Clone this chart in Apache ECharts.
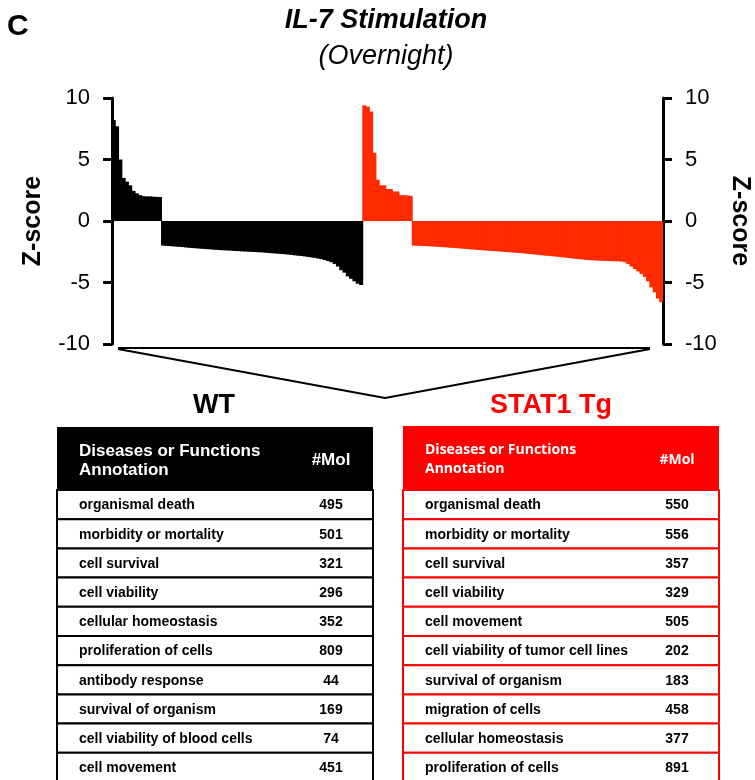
<!DOCTYPE html>
<html>
<head>
<meta charset="utf-8">
<title>IL-7 Stimulation (Overnight)</title>
<script src="https://cdn.jsdelivr.net/npm/echarts@6/dist/echarts.min.js"></script>
<style>
  html, body { margin: 0; padding: 0; background: #fff; }
  #main { width: 755px; height: 780px; }
</style>
</head>
<body>
<div id="main"></div>
<script>
// z-scores, sorted as in the figure (left: WT, right: STAT1 Tg)
var wtZ = [
  8.2, 7.7, 5.0, 3.5, 3.2, 2.9, 2.45, 2.25, 2.1, 2.02, 2.0, 2.0, 1.98, 1.96, 1.95,
  -2.0, -2.02, -2.04, -2.06, -2.08, -2.1, -2.12, -2.15, -2.18,
  -2.2, -2.22, -2.24, -2.26, -2.28, -2.3, -2.32, -2.34, -2.36, -2.38,
  -2.39, -2.4, -2.42, -2.44, -2.45, -2.47, -2.48, -2.5, -2.51, -2.52, -2.54, -2.55,
  -2.58, -2.6, -2.62, -2.64, -2.66, -2.68, -2.7, -2.73, -2.76, -2.79, -2.82,
  -2.85, -2.88, -2.92, -2.96, -3.0, -3.05, -3.1, -3.17,
  -3.25, -3.35, -3.5, -3.7, -4.0, -4.2, -4.5, -4.7, -4.9, -5.1, -5.2
];
var tgZ = [
  9.4, 9.3, 8.9, 5.55, 3.35, 2.9, 2.9, 2.6, 2.6, 2.4, 2.4, 2.1, 2.1, 2.08, 2.05,
  -2.0, -2.01, -2.02, -2.03, -2.05, -2.06, -2.08, -2.09, -2.11, -2.13, -2.15,
  -2.17, -2.19, -2.21, -2.23, -2.25, -2.27, -2.3,
  -2.32, -2.34, -2.36, -2.38, -2.4, -2.42, -2.44, -2.46, -2.48, -2.5,
  -2.52, -2.54, -2.56, -2.58, -2.6, -2.62, -2.65, -2.68,
  -2.7, -2.73, -2.76, -2.79, -2.81, -2.84, -2.86, -2.89, -2.92, -2.95,
  -2.98, -3.01, -3.04, -3.07, -3.1, -3.12, -3.15, -3.17,
  -3.19, -3.2, -3.22, -3.23, -3.24, -3.25, -3.26, -3.27, -3.28, -3.3,
  -3.35, -3.5, -3.7, -3.9, -4.1, -4.3, -4.55, -4.9, -5.4, -5.8, -6.3, -6.6
];

// top-10 functions tables
var wtFunctions = [
  'organismal death', 'morbidity or mortality', 'cell survival', 'cell viability',
  'cellular homeostasis', 'proliferation of cells', 'antibody response',
  'survival of organism', 'cell viability of blood cells', 'cell movement'
];
var wtMol = [495, 501, 321, 296, 352, 809, 44, 169, 74, 451];

var tgFunctions = [
  'organismal death', 'morbidity or mortality', 'cell survival', 'cell viability',
  'cell movement', 'cell viability of tumor cell lines', 'survival of organism',
  'migration of cells', 'cellular homeostasis', 'proliferation of cells'
];
var tgMol = [550, 556, 357, 329, 505, 202, 183, 458, 377, 891];

var BLACK = '#000000';
var BAR_RED = '#ff2a00';
var TABLE_RED = '#ff0000';
var FONT = '"Liberation Sans", Arial, sans-serif';

var chart = echarts.init(document.getElementById('main'), null, { renderer: 'canvas' });

var n = wtZ.length + tgZ.length;
var cats = [];
for (var i = 0; i < n; i++) cats.push(String(i));

var wtData = wtZ.concat(tgZ.map(function () { return '-'; }));
var tgData = wtZ.map(function () { return '-'; }).concat(tgZ);

function buildTable(left, right, top, headBottom, rowH, names, mols, headColor, lineColor, headFont) {
  var els = [];
  var w = right - left;
  var numX = left + 274;
  els.push({
    type: 'rect',
    shape: { x: left, y: top, width: w, height: headBottom - top },
    style: { fill: headColor }
  });
  els.push({
    type: 'text',
    style: {
      x: left + 22, y: (top + headBottom) / 2 + 2,
      text: 'Diseases or Functions\nAnnotation',
      fill: '#fff', font: headFont, lineHeight: 19,
      verticalAlign: 'middle', align: 'left'
    }
  });
  els.push({
    type: 'text',
    style: {
      x: numX, y: (top + headBottom) / 2 + 2, text: '#Mol',
      fill: '#fff', font: headFont, verticalAlign: 'middle', align: 'center'
    }
  });
  names.forEach(function (name, k) {
    var y0 = headBottom + k * rowH;
    els.push({
      type: 'rect',
      shape: { x: left, y: y0, width: w, height: rowH },
      style: { fill: '#fff', stroke: lineColor, lineWidth: 2 }
    });
    els.push({
      type: 'text',
      style: {
        x: left + 22, y: y0 + rowH / 2 + 1, text: name,
        fill: '#000', font: 'bold 14px ' + FONT,
        verticalAlign: 'middle', align: 'left'
      }
    });
    els.push({
      type: 'text',
      style: {
        x: numX, y: y0 + rowH / 2 + 1, text: String(mols[k]),
        fill: '#000', font: 'bold 14px ' + FONT,
        verticalAlign: 'middle', align: 'center'
      }
    });
  });
  return els;
}

var axisCommon = {
  type: 'value',
  min: -10,
  max: 10,
  interval: 5,
  axisLine: { show: true, lineStyle: { color: BLACK, width: 3 } },
  axisTick: { show: true, length: 9, lineStyle: { color: BLACK, width: 3 } },
  axisLabel: { color: BLACK, fontSize: 22, fontFamily: FONT, margin: 22 },
  splitLine: { show: false },
  name: 'Z-score',
  nameLocation: 'middle',
  nameTextStyle: { color: BLACK, fontSize: 25, fontWeight: 'bold', fontFamily: FONT }
};

var graphics = [
  { type: 'text', style: { x: 7, y: 27, text: 'C', font: 'bold 30px ' + FONT, fill: BLACK, verticalAlign: 'middle' } },
  { type: 'text', style: { x: 386, y: 21, text: 'IL-7 Stimulation', font: 'italic bold 27px ' + FONT, fill: BLACK, align: 'center', verticalAlign: 'middle' } },
  { type: 'text', style: { x: 386, y: 56, text: '(Overnight)', font: 'italic 27px ' + FONT, fill: BLACK, align: 'center', verticalAlign: 'middle' } },
  { type: 'polyline', shape: { points: [[118, 348], [650, 348]] }, style: { stroke: BLACK, lineWidth: 2, fill: null } },
  { type: 'polyline', shape: { points: [[118, 349], [385, 398], [650, 349]] }, style: { stroke: BLACK, lineWidth: 2, fill: null } },
  { type: 'text', style: { x: 214, y: 406, text: 'WT', font: 'bold 27px ' + FONT, fill: BLACK, align: 'center', verticalAlign: 'middle' } },
  { type: 'text', style: { x: 551, y: 406, text: 'STAT1 Tg', font: 'bold 27px ' + FONT, fill: TABLE_RED, align: 'center', verticalAlign: 'middle' } }
];
graphics = graphics
  .concat(buildTable(57, 373, 427, 490, 29.2, wtFunctions, wtMol, BLACK, BLACK, 'bold 17px ' + FONT))
  .concat(buildTable(403, 719, 426, 490, 29.2, tgFunctions, tgMol, TABLE_RED, TABLE_RED, 'bold 14px "Open Sans", ' + FONT));

var option = {
  animation: false,
  backgroundColor: '#fff',
  grid: { left: 112, right: 92, top: 98, bottom: 436, outerBoundsMode: 'none' },
  xAxis: {
    type: 'category',
    data: cats,
    show: false
  },
  yAxis: [
    Object.assign({}, axisCommon, { position: 'left', nameGap: 66, nameRotate: 90 }),
    Object.assign({}, axisCommon, { position: 'right', nameGap: 64, nameRotate: -90 })
  ],
  series: [
    {
      name: 'WT',
      type: 'bar',
      data: wtData,
      barWidth: 4.2,
      barGap: '-100%',
      itemStyle: { color: BLACK }
    },
    {
      name: 'STAT1 Tg',
      type: 'bar',
      data: tgData,
      barWidth: 4.2,
      barGap: '-100%',
      itemStyle: { color: BAR_RED }
    }
  ],
  graphic: graphics
};

chart.setOption(option);
</script>
</body>
</html>
